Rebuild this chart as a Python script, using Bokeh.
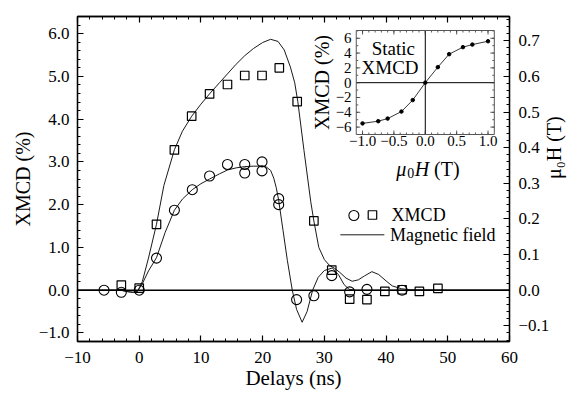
import numpy as np
from bokeh.plotting import figure
from bokeh.models import Range1d, LinearAxis, FixedTicker, Span, Label, ColumnDataSource
from bokeh.embed import file_html
from bokeh.resources import INLINE
from bokeh.core.properties import value

# ---------------- data ----------------
delay_circ = [-5.7, -2.9, 0.0, 2.8, 5.7, 8.6, 11.4, 14.3, 17.1, 17.1, 19.9, 19.9,
              22.6, 22.6, 25.5, 28.3, 31.2, 34.1, 36.9, 42.6]
xmcd_circ = [0.0, -0.05, 0.0, 0.75, 1.87, 2.35, 2.67, 2.94, 2.94, 2.74, 3.0, 2.79,
             2.14, 2.0, -0.22, -0.13, 0.34, -0.04, 0.02, 0.0]

delay_sq = [-2.9, 0.0, 2.8, 5.7, 8.5, 11.4, 14.3, 17.1, 19.9, 22.7, 25.6, 28.3,
            31.2, 34.1, 36.9, 39.8, 42.6, 45.4, 48.4]
xmcd_sq = [0.12, 0.05, 1.54, 3.28, 4.07, 4.59, 4.81, 5.02, 5.02, 5.2, 4.41, 1.62,
           0.47, -0.21, -0.22, -0.03, 0.01, -0.03, 0.04]

field_t = [-10, -5, -3, -2, -1, -0.3, 0.5, 1.5, 2.8, 4.0, 5.7, 7.0, 8.5, 10.0, 11.4,
           13.0, 14.3, 15.7, 17.1, 18.5, 20.0, 21.3, 22.5, 23.5, 24.5, 25.2, 25.7, 26.7,
           27.8, 28.3, 29.1, 30.0, 30.8, 31.6, 32.5, 33.5, 34.5, 35.5, 36.5, 37.7, 38.8,
           40.0, 41.0, 42.5, 44.0, 50.0, 60.0]
field_T = [0, 0, 0, -0.004, -0.006, -0.004, 0.024, 0.09, 0.185, 0.294, 0.394, 0.446,
           0.488, 0.522, 0.551, 0.582, 0.607, 0.634, 0.658, 0.678, 0.695, 0.704, 0.698,
           0.674, 0.626, 0.582, 0.529, 0.392, 0.248, 0.194, 0.12, 0.086, 0.07, 0.062,
           0.05, 0.034, 0.025, 0.029, 0.04, 0.052, 0.044, 0.026, 0.012, 0.004, 0.001, 0, 0]

fit_t = [-10, -3, -2, -1, -0.3, 0.5, 1.5, 2.8, 4.2, 5.7, 7.0, 8.6, 10.0, 11.4, 13.0,
         14.3, 15.7, 17.1, 18.5, 19.9, 20.6, 21.3, 21.8, 22.2, 22.6, 23.3, 24.0, 24.8,
         25.5, 26.4, 27.2, 28.1, 29.0, 30.0, 31.3, 32.3, 33.2, 34.0, 35.0, 40.0, 60.0]
fit_xmcd = [0, 0, -0.03, -0.05, -0.03, 0.15, 0.45, 0.76, 1.35, 1.87, 2.13, 2.35, 2.49,
            2.6, 2.72, 2.81, 2.86, 2.89, 2.9, 2.9, 2.88, 2.8, 2.62, 2.4, 2.1, 1.4, 0.7,
            0.0, -0.45, -0.75, -0.5, 0.0, 0.3, 0.46, 0.52, 0.36, 0.13, 0.02, 0.0, 0.0, 0.0]

static_H = [-1.0, -0.75, -0.6, -0.38, -0.2, 0.0, 0.2, 0.38, 0.6, 0.75, 1.0]
static_xmcd = [-5.5, -5.2, -4.85, -3.9, -2.35, 0.0, 2.1, 3.85, 4.8, 5.15, 5.6]

x_ticks = [-10, 0, 10, 20, 30, 40, 50, 60]
x_tick_labels = ["\u221210", "0", "10", "20", "30", "40", "50", "60"]
y_ticks = [-1, 0, 1, 2, 3, 4, 5, 6]
y_tick_labels = ["\u22121.0", "0.0", "1.0", "2.0", "3.0", "4.0", "5.0", "6.0"]
field_ticks = [-0.1, 0.0, 0.1, 0.2, 0.3, 0.4, 0.5, 0.6, 0.7]
field_tick_labels = ["\u22120.1", "0.0", "0.1", "0.2", "0.3", "0.4", "0.5", "0.6", "0.7"]
inset_x_ticks = [-1.0, -0.5, 0.0, 0.5, 1.0]
inset_x_tick_labels = ["\u22121.0", "\u22120.5", "0.0", "0.5", "1.0"]
inset_y_ticks = [-6, -4, -2, 0, 2, 4, 6]
inset_y_tick_labels = ["\u22126", "\u22124", "\u22122", "0", "2", "4", "6"]

# ---------------- layout constants ----------------
W, H = 579, 394
X0, X1 = -10.0, 60.0
Y0, Y1 = -1.2, 6.4
F0, F1 = -0.144, 0.768
PL, PR, PT, PB = 77.0, 512.0, 16.0, 341.0   # frame edges in page pixels
FONT = "Liberation Serif"
INK = "black"


def dx(px):
    return X0 + (px - PL) * (X1 - X0) / (PR - PL)


def dy(py):
    return Y1 - (py - PT) * (Y1 - Y0) / (PB - PT)


p = figure(width=W, height=H, x_range=Range1d(X0, X1), y_range=Range1d(Y0, Y1),
           output_backend="svg", toolbar_location=None,
           min_border_left=int(PL), min_border_right=int(W - PR),
           min_border_top=int(PT), min_border_bottom=int(H - PB))
p.grid.visible = False
p.background_fill_color = "white"
p.border_fill_color = "white"
p.outline_line_color = INK
p.outline_line_width = 1.3

p.extra_y_ranges = {"field": Range1d(F0, F1)}


def style_axis(ax, ticks, minor, labels, size="17px", standoff=8):
    ax.ticker = FixedTicker(ticks=ticks, minor_ticks=minor)
    ax.major_label_overrides = dict(zip(ticks, labels))
    ax.major_tick_in = 6
    ax.major_tick_out = 0
    ax.minor_tick_in = 3
    ax.minor_tick_out = 0
    ax.axis_line_width = 1.3
    ax.axis_line_color = INK
    ax.major_tick_line_color = INK
    ax.minor_tick_line_color = INK
    ax.major_tick_line_width = 1.2
    ax.minor_tick_line_width = 1.0
    ax.major_label_text_font = FONT
    ax.major_label_text_font_size = size
    ax.major_label_text_color = INK
    ax.major_label_standoff = standoff
    ax.axis_label_text_font = FONT
    ax.axis_label_text_font_style = "normal"
    ax.axis_label_text_color = INK


x_minor = list(np.arange(-10, 60.1, 2))
y_minor = list(np.round(np.arange(-1.2, 6.41, 0.2), 2))
f_minor = list(np.round(np.arange(-0.14, 0.77, 0.02), 3))

xa = p.xaxis[0]
style_axis(xa, x_ticks, x_minor, x_tick_labels, standoff=10)
xa.axis_label = "Delays (ns)"
xa.axis_label_text_font_size = "21px"
xa.axis_label_standoff = 0

ya = p.yaxis[0]
style_axis(ya, y_ticks, y_minor, y_tick_labels, standoff=8)
ya.axis_label = "XMCD (%)"
ya.axis_label_text_font_size = "20px"
ya.axis_label_standoff = 2

top = LinearAxis()
style_axis(top, x_ticks, x_minor, x_tick_labels, size="0px", standoff=0)
top.major_label_text_color = None
p.add_layout(top, "above")

right = LinearAxis(y_range_name="field")
style_axis(right, field_ticks, f_minor, field_tick_labels, standoff=9)
right.axis_label = "\u03bc\u2080H (T)"
right.axis_label_text_font_size = "20px"
right.axis_label_standoff = 2
try:
    right.axis_label_orientation = np.pi / 2
except Exception:
    pass
p.add_layout(right, "right")

p.add_layout(Span(location=0, dimension="width", line_color=INK, line_width=1.6))

# ---------------- main data ----------------
p.line(fit_t, fit_xmcd, line_color="#1a1a1a", line_width=1.0)
p.line(field_t, field_T, y_range_name="field", line_color="#1a1a1a", line_width=1.0)
p.scatter(delay_circ, xmcd_circ, marker="circle", size=10, fill_color=None,
          line_color=INK, line_width=1.1)
p.scatter(delay_sq, xmcd_sq, marker="square", size=8.5, fill_color=None,
          line_color=INK, line_width=1.2)

# ---------------- legend (manual) ----------------
p.scatter([dx(355.3)], [dy(215.0)], marker="circle", size=10, fill_color=None,
          line_color=INK, line_width=1.1)
p.scatter([dx(374.0)], [dy(214.5)], marker="square", size=8.5, fill_color=None,
          line_color=INK, line_width=1.2)
p.line([dx(341.7), dx(386.0)], [dy(234.3), dy(234.3)], line_color="#1a1a1a", line_width=1.0)


def lab(px, py, text, size="18px", align="left", baseline="middle", angle=0.0, style="normal"):
    p.add_layout(Label(x=dx(px), y=dy(py), text=text, text_font=FONT, text_font_size=size,
                       text_align=align, text_baseline=baseline, angle=angle,
                       text_font_style=style, text_color=INK))


lab(393.3, 214.5, "XMCD", size="18px")
lab(391.7, 234.5, "Magnetic field", size="18px")

# ---------------- inset ----------------
IL, IR, IT, IB = 357.7, 496.7, 30.0, 134.0      # inset frame in page px
HX0, HX1 = -1.1, 1.1
MY0, MY1 = -7.0, 7.05
hx_pp = (HX1 - HX0) / (IR - IL)
my_pp = (MY1 - MY0) / (IB - IT)
p.extra_x_ranges = {"hx": Range1d(HX0 - (IL - PL) * hx_pp, HX1 + (PR - IR) * hx_pp)}
p.extra_y_ranges["hy"] = Range1d(MY0 - (PB - IB) * my_pp, MY1 + (IT - PT) * my_pp)
ins = dict(x_range_name="hx", y_range_name="hy")

p.quad(left=[HX0], right=[HX1], bottom=[MY0], top=[MY1], fill_color="white",
       line_color=None, **ins)
p.segment(x0=[0.0, HX0], y0=[MY0, 0.0], x1=[0.0, HX1], y1=[MY1, 0.0],
          line_color=INK, line_width=1.0, **ins)

ixmin = list(np.round(np.arange(-1.0, 1.01, 0.1), 2))
iymin = list(range(-7, 8))


def vticks(xs, L):
    n = len(xs)
    p.segment(x0=xs, y0=[MY0] * n, x1=xs, y1=[MY0 + L * my_pp] * n, line_color="#333", line_width=0.8, **ins)
    p.segment(x0=xs, y0=[MY1] * n, x1=xs, y1=[MY1 - L * my_pp] * n, line_color="#333", line_width=0.8, **ins)


def hticks(ys, L):
    ys = [y for y in ys if MY0 < y < MY1]
    n = len(ys)
    p.segment(x0=[HX0] * n, y0=ys, x1=[HX0 + L * hx_pp] * n, y1=ys, line_color="#333", line_width=0.8, **ins)
    p.segment(x0=[HX1] * n, y0=ys, x1=[HX1 - L * hx_pp] * n, y1=ys, line_color="#333", line_width=0.8, **ins)


vticks(ixmin, 2)
vticks(inset_x_ticks, 4)
hticks(iymin, 2)
hticks(inset_y_ticks, 4)

p.quad(left=[HX0], right=[HX1], bottom=[MY0], top=[MY1], fill_color=None,
       line_color="#555", line_width=1.0, **ins)

p.line(static_H, static_xmcd, line_color="#222", line_width=0.9, **ins)
p.scatter(static_H, static_xmcd, marker="circle", size=3.5, fill_color=INK,
          line_color=INK, **ins)

xsrc = ColumnDataSource(dict(x=inset_x_ticks, y=[MY0 - (140.0 - IB) * my_pp] * len(inset_x_ticks),
                             t=inset_x_tick_labels))
p.text(x="x", y="y", text="t", source=xsrc, text_font=value(FONT), text_font_size=value("15px"),
       text_align="center", text_baseline="middle", text_color=INK, **ins)
ysrc = ColumnDataSource(dict(x=[HX0 - (IL - 353.0) * hx_pp] * len(inset_y_ticks), y=inset_y_ticks,
                             t=inset_y_tick_labels))
p.text(x="x", y="y", text="t", source=ysrc, text_font=value(FONT), text_font_size=value("15px"),
       text_align="right", text_baseline="middle", text_color=INK, **ins)

lab(395, 48, "Static", size="19px", align="center")
lab(391.7, 67, "XMCD", size="19px", align="center")
lab(323.5, 82, "XMCD (%)", size="20px", align="center", baseline="middle", angle=np.pi / 2)
IXB = 168
lab(398, IXB, "\u03bc", size="20px", baseline="alphabetic", style="italic")
lab(409, IXB + 4, "0", size="14px", baseline="alphabetic")
lab(416.5, IXB, "H", size="20px", baseline="alphabetic", style="italic")
lab(436, IXB, "(T)", size="20px", baseline="alphabetic")

open("out.html", "w").write(file_html(p, INLINE))
